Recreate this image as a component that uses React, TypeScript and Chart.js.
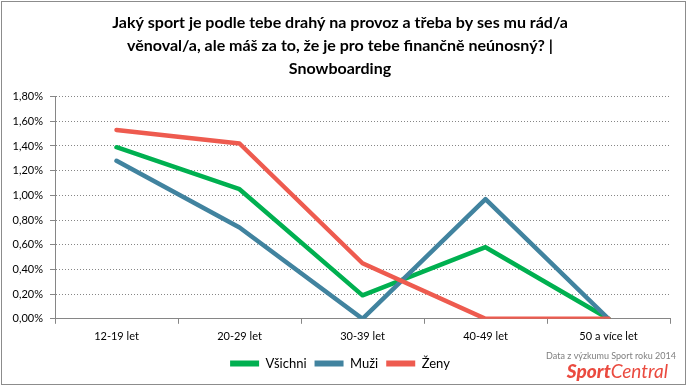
import React, { useEffect, useRef } from "react";
import { Chart, registerables } from "chart.js";

Chart.register(...registerables);

const categories = ["12-19 let", "20-29 let", "30-39 let", "40-49 let", "50 a více let"];
const vsichni = [1.39, 1.05, 0.19, 0.58, 0];
const muzi = [1.28, 0.74, 0, 0.97, 0];
const zeny = [1.53, 1.42, 0.45, 0, 0];
const seriesNames = ["Všichni", "Muži", "Ženy"];
const titleLines = [
  "Jaký sport je podle tebe drahý na provoz a třeba by ses mu rád/a",
  "věnoval/a, ale máš za to, že je pro tebe finančně neúnosný? |",
  "Snowboarding",
];
const watermarkSmall = "Data z výzkumu Sport roku 2014";
const watermarkBrandA = "Sport";
const watermarkBrandB = "Central";

const FONT = "Lato, 'Open Sans', 'DejaVu Sans', sans-serif";

const framePlugin = {
  id: "frame",
  afterDraw(chart: any) {
    const ctx = chart.ctx;
    ctx.save();
    ctx.strokeStyle = "#8c8c8c";
    ctx.lineWidth = 1;
    ctx.strokeRect(1.5, 1.5, 684, 383);
    ctx.fillStyle = "#7f7f7f";
    ctx.font = `9px ${FONT}`;
    ctx.textAlign = "right";
    ctx.textBaseline = "middle";
    ctx.fillText(watermarkSmall, 676, 356);
    ctx.fillStyle = "#ea4a3f";
    ctx.font = `italic 900 19px ${FONT}`;
    const wB = ctx.measureText(watermarkBrandA).width;
    ctx.font = `italic 400 19px ${FONT}`;
    const wC = ctx.measureText(watermarkBrandB).width;
    const start = 668 - wB - wC;
    ctx.textAlign = "left";
    ctx.font = `italic 900 19px ${FONT}`;
    ctx.fillText(watermarkBrandA, start, 372);
    ctx.font = `italic 400 19px ${FONT}`;
    ctx.fillText(watermarkBrandB, start + wB, 372);
    ctx.restore();
  },
};

export default function App() {
  const ref = useRef<HTMLCanvasElement>(null);
  useEffect(() => {
    document.body.style.margin = "0";
    const canvas = ref.current!;
    const mk = (label: string, data: number[], color: string, order: number) => ({
      label,
      data,
      borderColor: color,
      backgroundColor: color,
      borderWidth: 4.5,
      pointRadius: 0,
      pointHoverRadius: 0,
      tension: 0,
      borderCapStyle: "round" as const,
      borderJoinStyle: "round" as const,
      fill: false,
      order,
    });
    const chart = new Chart(canvas, {
      type: "line",
      data: {
        labels: categories,
        datasets: [
          mk(seriesNames[0], vsichni, "#00b050", 3),
          mk(seriesNames[1], muzi, "#41839f", 2),
          mk(seriesNames[2], zeny, "#ee5b4f", 1),
        ],
      },
      plugins: [framePlugin],
      options: {
        responsive: false,
        animation: false,
        devicePixelRatio: 1,
        layout: { padding: { left: 10, right: 17, top: 0, bottom: 8 } },
        plugins: {
          title: {
            display: true,
            text: titleLines,
            color: "#000",
            font: { family: FONT, size: 16, weight: "bold", lineHeight: 1.45 },
            padding: { top: 11, bottom: 16 },
          },
          legend: {
            display: true,
            position: "bottom",
            labels: {
              color: "#000",
              font: { family: FONT, size: 13 },
              boxWidth: 29,
              boxHeight: 6,
              padding: 8,
              useBorderRadius: true,
              borderRadius: 3,
              generateLabels(chart: any) {
                return chart.data.datasets.map((ds: any, i: number) => ({
                  text: ds.label,
                  fillStyle: ds.borderColor,
                  strokeStyle: ds.borderColor,
                  lineWidth: 0,
                  hidden: false,
                  datasetIndex: i,
                  fontColor: "#000",
                }));
              },
            },
          },
          tooltip: { enabled: false },
        },
        scales: {
          x: {
            offset: true,
            grid: {
              offset: true,
              drawOnChartArea: false,
              drawTicks: true,
              tickLength: 5,
              tickColor: "#868686",
              color: "#868686",
            },
            border: { display: true, color: "#868686", width: 1 },
            ticks: {
              color: "#000",
              font: { family: FONT, size: 11 },
              padding: 6,
              maxRotation: 0,
              autoSkip: false,
            },
          },
          y: {
            min: 0,
            max: 1.8,
            grid: {
              color: "#868686",
              drawTicks: true,
              tickLength: 5,
              tickColor: "#868686",
              tickBorderDash: [],
            },
            border: { display: true, color: "#868686", width: 1, dash: [1, 2] },
            afterFit(scale: any) {
              scale.width = 45;
            },
            ticks: {
              stepSize: 0.2,
              color: "#000",
              font: { family: FONT, size: 11 },
              padding: 7,
              callback: (v: any) => Number(v).toFixed(2).replace(".", ",") + "%",
            },
          },
        },
      },
    });
    return () => chart.destroy();
  }, []);
  return (
    <div style={{ width: 687, height: 388, background: "#fff" }}>
      <canvas ref={ref} width={687} height={388} />
    </div>
  );
}
